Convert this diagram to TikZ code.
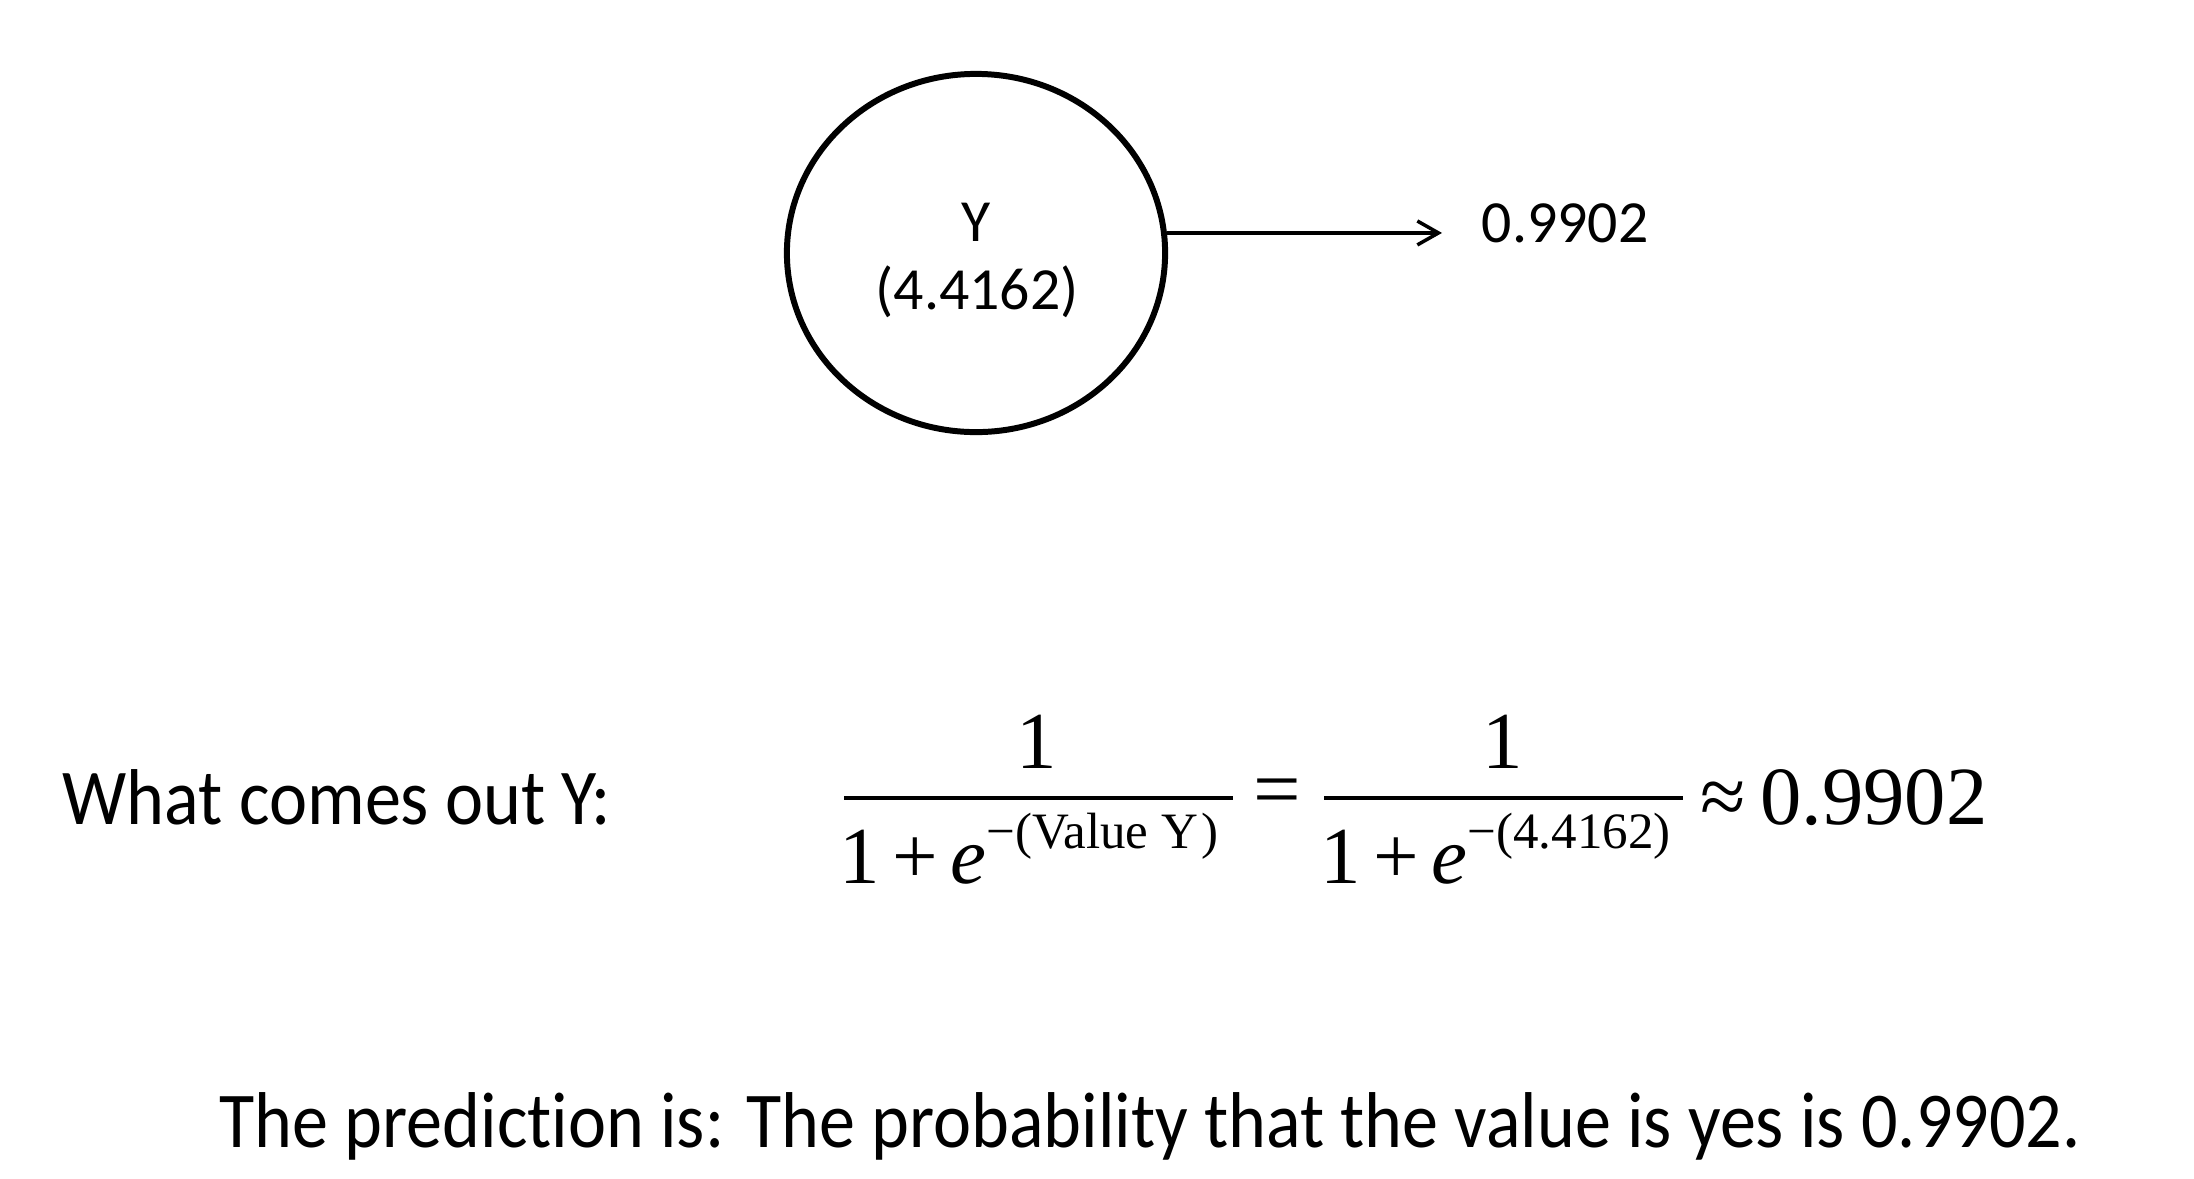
\documentclass[tikz,border=0pt]{standalone}
\usepackage{fontspec}
\usepackage{graphicx}
\setmainfont{Carlito}[Ligatures=NoCommon]
\newfontfamily\tms{Liberation Serif}
\usetikzlibrary{arrows.meta,shapes.geometric}
\begin{document}
\begin{tikzpicture}[x=0.01cm,y=-0.01cm,
  lbl/.style={font=\fontsize{17}{20}\selectfont, inner sep=0pt},
  bigtxt/.style={font=\fontsize{22.5}{26}\selectfont, inner sep=0pt, anchor=base west},
  mth/.style={font=\tms\fontsize{23}{27}\selectfont, inner sep=0pt},
  bar/.style={line width=1.15pt},
  neuron/.style={ellipse, draw, line width=1.7pt, minimum width=3.78cm, minimum height=3.58cm, inner sep=0pt}]
\newcommand{\supsz}{\fontsize{14.5}{17}\selectfont}
\useasboundingbox (0,0) rectangle (2194,1178);
% neuron
\node[neuron] (Y) at (976,253) {};
\node[lbl, anchor=base] (Yname) at (976,241) {Y};
\node[lbl, anchor=base] (Yval) at (977,309) {(4.4162)};
\coordinate (tip) at (1442,233);
\draw[line width=1pt, -{Straight Barb[length=6pt,width=6.8pt]}] (Y.6) -- (Y.6 -| tip);
\node[lbl, anchor=base west] (out) at (1481,242) {0.9902};
% left label
\node[bigtxt] (what) at (62,824) {\resizebox{5.48cm}{\height}{What comes out Y:}};
% fraction 1
\node[mth, anchor=base] (num1) at (1037,768) {1};
\draw[bar] (844,798) -- (1233,798);
\node[mth, anchor=base west] (den1) at (839,883) {1\kern0.12cm+\kern0.13cm\textit{e}\raisebox{0.34cm}{\tms\supsz −(Value Y\kern0.03cm)}};
\node[mth, font=\tms\fontsize{24}{28}\selectfont] (eq) at (1277,798) {=};
% fraction 2
\node[mth, anchor=base] (num2) at (1503,768) {1};
\draw[bar] (1324,798) -- (1683,798);
\node[mth, anchor=base west] (den2) at (1320,883) {1\kern0.12cm+\kern0.13cm\textit{e}\raisebox{0.34cm}{\tms\supsz −(4.4162)}};
\node[mth, font=\tms\fontsize{23.5}{28}\selectfont, anchor=base west] (approx) at (1700,824) {≈\kern0.14cm 0.9902};
% conclusion
\node[bigtxt] (pred) at (219,1147) {\resizebox{18.6cm}{\height}{The prediction is: The probability that the value is yes is 0.9902.}};
\end{tikzpicture}
\end{document}
